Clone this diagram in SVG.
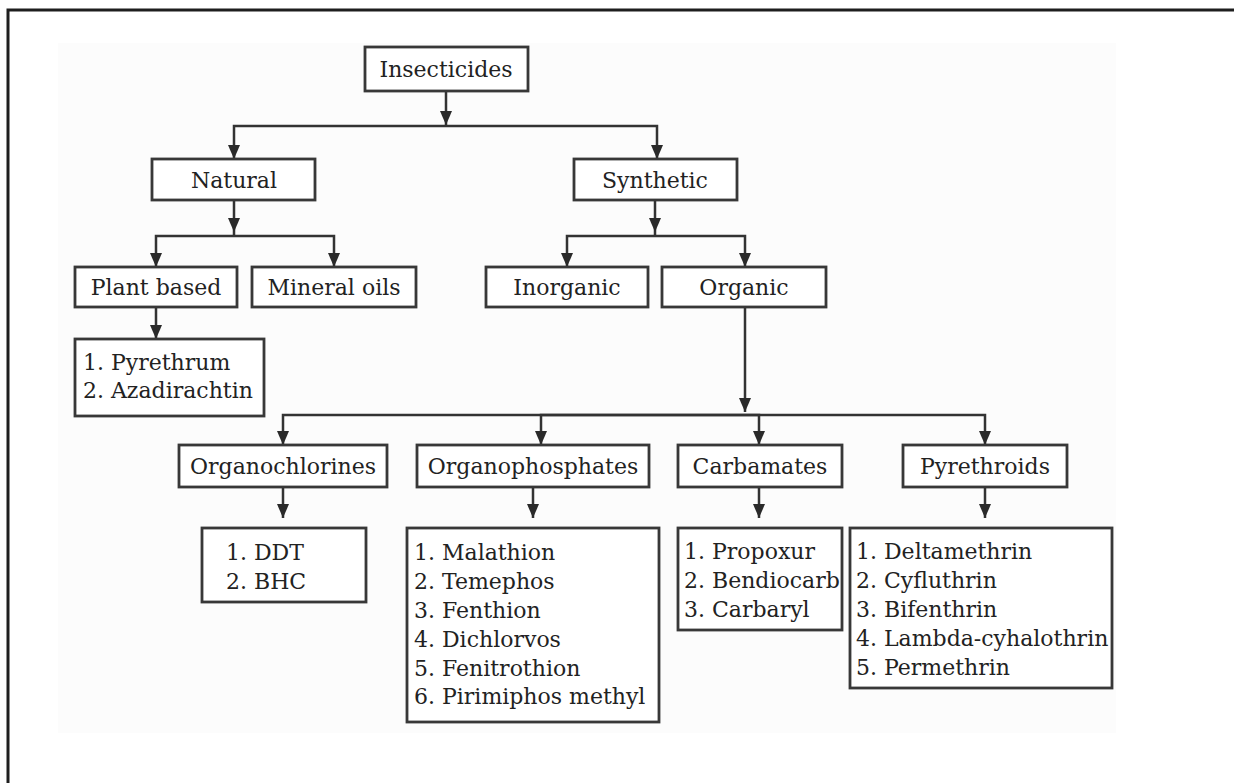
<svg xmlns="http://www.w3.org/2000/svg" width="1234" height="783" viewBox="0 0 1234 783">
  <style>
    .box { fill: #ffffff; stroke: #383838; stroke-width: 2.8; }
    .lbl { font-family: "DejaVu Serif", "Liberation Serif", serif; font-size: 22px; fill: #222222; }
    .mid { text-anchor: middle; }
    .wire { fill: none; stroke: #333333; stroke-width: 2.5; }
  </style>
  <defs>
    <marker id="down" markerUnits="userSpaceOnUse" markerWidth="12" markerHeight="14" viewBox="0 0 12 14" refX="6" refY="14" orient="0">
      <path d="M0 0 L12 0 L6 14 Z" fill="#2a2a2a"/>
    </marker>
  </defs>

  <rect width="1234" height="783" fill="#ffffff"/>
  <!-- page frame -->
  <path d="M8 783 V10 H1234" fill="none" stroke="#1e1e1e" stroke-width="3"/>
  <!-- faint scan area -->
  <rect x="58" y="43" width="1058" height="690" fill="#fcfcfc"/>

  <g id="connectors">
    <path class="wire" d="M446 91 V125" marker-end="url(#down)"/>
    <path class="wire" d="M446 126 H234 V159" marker-end="url(#down)"/>
    <path class="wire" d="M446 126 H657 V159" marker-end="url(#down)"/>

    <path class="wire" d="M234 200 V232" marker-end="url(#down)"/>
    <path class="wire" d="M234 232 V236"/>
    <path class="wire" d="M234 236 H156 V267" marker-end="url(#down)"/>
    <path class="wire" d="M234 236 H334 V267" marker-end="url(#down)"/>

    <path class="wire" d="M655 200 V232" marker-end="url(#down)"/>
    <path class="wire" d="M655 232 V236"/>
    <path class="wire" d="M655 236 H567 V267" marker-end="url(#down)"/>
    <path class="wire" d="M655 236 H745 V267" marker-end="url(#down)"/>

    <path class="wire" d="M156 307 V339" marker-end="url(#down)"/>

    <path class="wire" d="M745 307 V412" marker-end="url(#down)"/>
    <path class="wire" d="M745 415 H283 V445" marker-end="url(#down)"/>
    <path class="wire" d="M745 415 H541 V445" marker-end="url(#down)"/>
    <path class="wire" d="M745 415 H759 V445" marker-end="url(#down)"/>
    <path class="wire" d="M745 415 H985 V445" marker-end="url(#down)"/>

    <path class="wire" d="M283 487 V518" marker-end="url(#down)"/>
    <path class="wire" d="M533 487 V518" marker-end="url(#down)"/>
    <path class="wire" d="M759 487 V518" marker-end="url(#down)"/>
    <path class="wire" d="M985 487 V518" marker-end="url(#down)"/>
  </g>

  <g id="insecticides">
    <rect class="box" x="365" y="47" width="163" height="44"/>
    <text class="lbl mid" x="446" y="77">Insecticides</text>
  </g>
  <g id="natural">
    <rect class="box" x="152" y="159" width="163" height="41"/>
    <text class="lbl mid" x="234" y="188">Natural</text>
  </g>
  <g id="synthetic">
    <rect class="box" x="574" y="159" width="163" height="41"/>
    <text class="lbl mid" x="655" y="188">Synthetic</text>
  </g>
  <g id="plant-based">
    <rect class="box" x="75" y="267" width="162" height="40"/>
    <text class="lbl mid" x="156" y="295">Plant based</text>
  </g>
  <g id="mineral-oils">
    <rect class="box" x="252" y="267" width="164" height="40"/>
    <text class="lbl mid" x="334" y="295">Mineral oils</text>
  </g>
  <g id="inorganic">
    <rect class="box" x="486" y="267" width="162" height="40"/>
    <text class="lbl mid" x="567" y="295">Inorganic</text>
  </g>
  <g id="organic">
    <rect class="box" x="662" y="267" width="164" height="40"/>
    <text class="lbl mid" x="744" y="295">Organic</text>
  </g>
  <g id="plant-list">
    <rect class="box" x="75" y="339" width="189" height="77"/>
    <text class="lbl" x="83" y="370">1. Pyrethrum</text>
    <text class="lbl" x="83" y="398">2. Azadirachtin</text>
  </g>

  <g id="organochlorines">
    <rect class="box" x="179" y="445" width="208" height="42"/>
    <text class="lbl mid" x="283" y="474">Organochlorines</text>
  </g>
  <g id="organophosphates">
    <rect class="box" x="417" y="445" width="232" height="42"/>
    <text class="lbl mid" x="533" y="474">Organophosphates</text>
  </g>
  <g id="carbamates">
    <rect class="box" x="678" y="445" width="164" height="42"/>
    <text class="lbl mid" x="760" y="474">Carbamates</text>
  </g>
  <g id="pyrethroids">
    <rect class="box" x="903" y="445" width="164" height="42"/>
    <text class="lbl mid" x="985" y="474">Pyrethroids</text>
  </g>

  <g id="organochlorine-list">
    <rect class="box" x="202" y="528" width="164" height="74"/>
    <text class="lbl" x="226" y="560">1. DDT</text>
    <text class="lbl" x="226" y="589">2. BHC</text>
  </g>
  <g id="organophosphate-list">
    <rect class="box" x="407" y="528" width="252" height="194"/>
    <text class="lbl" x="414" y="560">1. Malathion</text>
    <text class="lbl" x="414" y="589">2. Temephos</text>
    <text class="lbl" x="414" y="618">3. Fenthion</text>
    <text class="lbl" x="414" y="647">4. Dichlorvos</text>
    <text class="lbl" x="414" y="676">5. Fenitrothion</text>
    <text class="lbl" x="414" y="704">6. Pirimiphos methyl</text>
  </g>
  <g id="carbamate-list">
    <rect class="box" x="678" y="528" width="164" height="102"/>
    <text class="lbl" x="684" y="559">1. Propoxur</text>
    <text class="lbl" x="684" y="588">2. Bendiocarb</text>
    <text class="lbl" x="684" y="617">3. Carbaryl</text>
  </g>
  <g id="pyrethroid-list">
    <rect class="box" x="850" y="528" width="262" height="160"/>
    <text class="lbl" x="856" y="559">1. Deltamethrin</text>
    <text class="lbl" x="856" y="588">2. Cyfluthrin</text>
    <text class="lbl" x="856" y="617">3. Bifenthrin</text>
    <text class="lbl" x="856" y="646">4. Lambda-cyhalothrin</text>
    <text class="lbl" x="856" y="675">5. Permethrin</text>
  </g>
</svg>
